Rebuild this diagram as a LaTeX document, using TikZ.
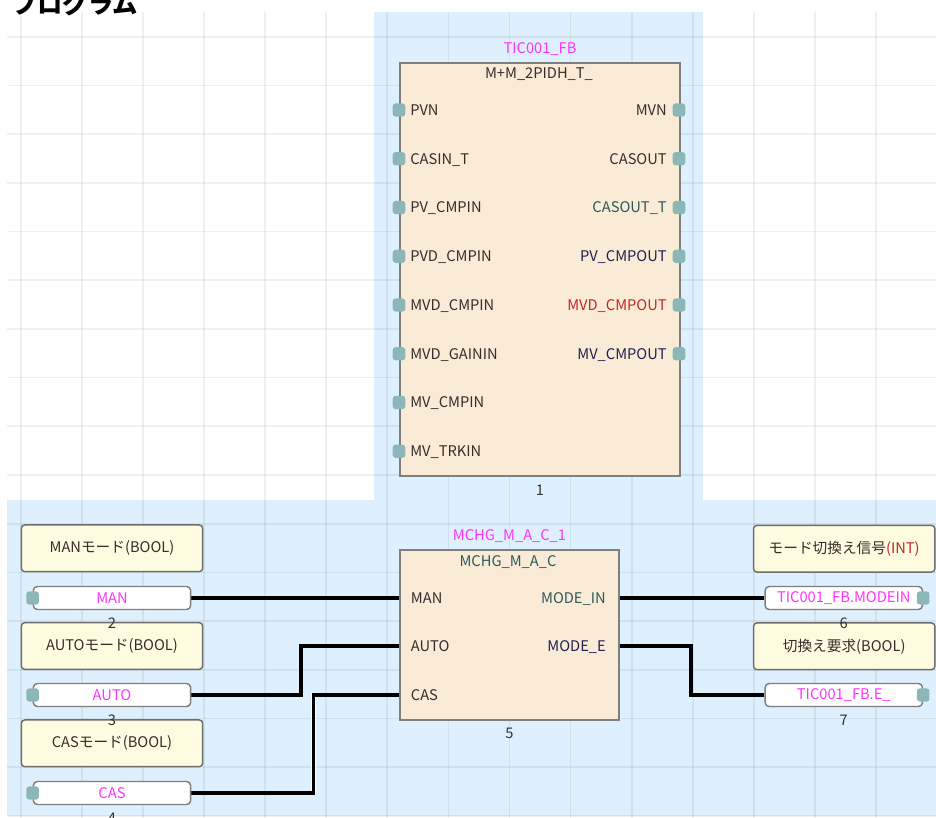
\documentclass[tikz,border=0pt]{standalone}
\usepackage{fontspec}
\setmainfont{Noto Sans CJK JP}
\usepackage{xcolor}
\usepackage{tikz}
\usetikzlibrary{positioning,backgrounds}
\definecolor{bgblue}{HTML}{DEF0FD}
\definecolor{fbfill}{HTML}{FAEBD7}
\definecolor{fbline}{HTML}{7F7F7F}
\definecolor{cmtfill}{HTML}{FDFBE0}
\definecolor{cmtline}{HTML}{6E6E6E}
\definecolor{varline}{HTML}{7F7F7F}
\definecolor{pinfill}{HTML}{8BB8B7}
\definecolor{lbltext}{HTML}{3A2A2A}
\definecolor{instname}{HTML}{FF33FF}
\definecolor{numtext}{HTML}{333333}
\definecolor{tealtext}{HTML}{2A5A5A}
\definecolor{navytext}{HTML}{202050}
\definecolor{redtext}{HTML}{C02828}

\begin{document}
\begin{tikzpicture}[
  x=0.75pt,y=-0.75pt,
  font=\fontsize{11}{13}\selectfont,
  gridln/.style ={draw=black,opacity=0.06,line width=1.3pt},
  fbbox/.style  ={draw=fbline,line width=1.5pt,fill=fbfill,inner sep=0pt,
                  anchor=north west},
  cmt/.style    ={draw=cmtline,line width=1.1pt,fill=cmtfill,rounded corners=2.5pt,
                  inner sep=0pt,minimum width=136pt,minimum height=35pt,text=lbltext},
  varbox/.style ={draw=varline,line width=1.1pt,fill=white,rounded corners=3pt,
                  inner sep=0pt,minimum width=118pt,minimum height=17.25pt,text=instname},
  pinmk/.style  ={fill=pinfill,rounded corners=2pt,inner sep=0pt,
                  minimum width=9.4pt,minimum height=9.8pt},
  plbl/.style   ={inner sep=0pt,text=lbltext},
  inlbl/.style  ={plbl,anchor=base west,yshift=-4pt},
  outlbl/.style ={plbl,anchor=base east,yshift=-4pt},
  inst/.style   ={text=instname,inner sep=1pt},
  num/.style    ={text=numtext,inner sep=1pt},
  wire/.style   ={draw=black,line width=2.4pt,preaction={draw=white,line width=3.7pt}},
]
\useasboundingbox (0,0) rectangle (936,818);

% ===================== Sheet: title, blue areas, grid =====================
\node[anchor=base west,inner sep=0pt,font=\fontsize{19}{19}\selectfont\bfseries]
  (title) at (12,13) {プログラム};

\begin{scope}[on background layer]
  \fill[bgblue] (374,12) rectangle (703,500);
  \fill[bgblue] (7,500) rectangle (936,816);
  \foreach \gx in {0,...,15}
    \draw[gridln] ({20.7+61.1*\gx},12) -- ({20.7+61.1*\gx},818);
  \foreach \gy in {0,...,16}
    \draw[gridln] (7,{36.7+48.7*\gy}) -- (936,{36.7+48.7*\gy});
\end{scope}

% ===================== Block 1: TIC001_FB ==================================
\node[fbbox,minimum width=210pt,minimum height=309.75pt] (fb1) at (399,62) {};
\node[plbl] (fb1type) at (539,74) {M+M\_2PIDH\_T\_};
\node[inst,above=3.5pt of fb1] (fb1name) {TIC001\_FB};
\node[num,below=4.6pt of fb1] (fb1num) {1};

\foreach \t [count=\i from 0] in {PVN,CASIN\_T,PV\_CMPIN,PVD\_CMPIN,
    MVD\_CMPIN,MVD\_GAININ,MV\_CMPIN,MV\_TRKIN} {
  \node[inlbl] (fb1i\i) at (410,{110+48.75*\i}) {\t};
  \node[pinmk] at (399,{110+48.75*\i}) {};
}
\foreach \t/\c [count=\i from 0] in {MVN/lbltext,CASOUT/lbltext,CASOUT\_T/tealtext,
    PV\_CMPOUT/navytext,MVD\_CMPOUT/redtext,MV\_CMPOUT/navytext} {
  \node[outlbl,text=\c] (fb1o\i) at (667,{110+48.75*\i}) {\t};
  \node[pinmk] at (679,{110+48.75*\i}) {};
}

% ===================== Block 5: MCHG_M_A_C_1 ===============================
\node[fbbox,minimum width=163.8pt,minimum height=127.3pt] (fb2) at (399.3,549.3) {};
\node[plbl,text=tealtext] (fb2type) at (508,562.5) {MCHG\_M\_A\_C};
\node[inst,above=3.5pt of fb2] (fb2name) {MCHG\_M\_A\_C\_1};
\node[num,below=4.2pt of fb2] (fb2num) {5};

\node[inlbl]  (f2MAN)  at (410.7,598) {MAN};
\node[inlbl]  (f2AUTO) at (410.7,646) {AUTO};
\node[inlbl]  (f2CAS)  at (410.7,695) {CAS};
\node[outlbl,text=tealtext] (f2MODEIN) at (606,598) {MODE\_IN};
\node[outlbl,text=navytext] (f2MODEE)  at (606,646) {MODE\_E};

\coordinate (f2in1)  at (399.3,598);
\coordinate (f2in2)  at (399.3,646);
\coordinate (f2in3)  at (399.3,695);
\coordinate (f2out1) at (617.7,598);
\coordinate (f2out2) at (617.7,646);

% ===================== Input variables (left) ==============================
\node[cmt] (cMAN)  at (112,548.3) {MANモード(BOOL)};
\node[cmt] (cAUTO) at (112,646)   {AUTOモード(BOOL)};
\node[cmt] (cCAS)  at (112,743.3) {CASモード(BOOL)};

\node[varbox] (vMAN)  at (112,598) {MAN};
\node[varbox] (vAUTO) at (112,695) {AUTO};
\node[varbox] (vCAS)  at (112,793) {CAS};
\node[pinmk] at (vMAN.west)  {};
\node[pinmk] at (vAUTO.west) {};
\node[pinmk] at (vCAS.west)  {};

\node[num,below=4.3pt of vMAN]  (nMAN)  {2};
\node[num,below=4.6pt of vAUTO] (nAUTO) {3};
\node[num,below=4.3pt of vCAS]  (nCAS)  {4};

% ===================== Output variables (right) ============================
\node[cmt] (cMODE) at (844.2,548.7) {モード切換え信号\textcolor{redtext}{(INT)}};
\node[cmt] (cE)    at (844.2,646.3) {切換え要求(BOOL)};

\node[varbox] (vMODE) at (843.8,598) {TIC001\_FB.MODEIN};
\node[varbox] (vE)    at (843.8,695) {TIC001\_FB.E\_};
\node[pinmk] at (vMODE.east) {};
\node[pinmk] at (vE.east)    {};

\node[num,below=4.3pt of vMODE] (nMODE) {6};
\node[num,below=4.6pt of vE]    (nE)    {7};

% ===================== Wires (kept behind the blocks) ======================
\coordinate (jAUTO) at (301,646);
\coordinate (jCAS)  at (313.5,695);
\coordinate (jE)    at (691,646);
\begin{scope}[on background layer]
  \draw[wire] (vMAN.east) -- (f2in1);
  \draw[wire] (vAUTO.east) -| (jAUTO) -- (f2in2);
  \draw[wire] (vCAS.east) -| (jCAS) -- (f2in3);
  \draw[wire] (f2out1) -- (vMODE.west);
  \draw[wire] (f2out2) -- (jE) |- (vE.west);
\end{scope}

\end{tikzpicture}
\end{document}
